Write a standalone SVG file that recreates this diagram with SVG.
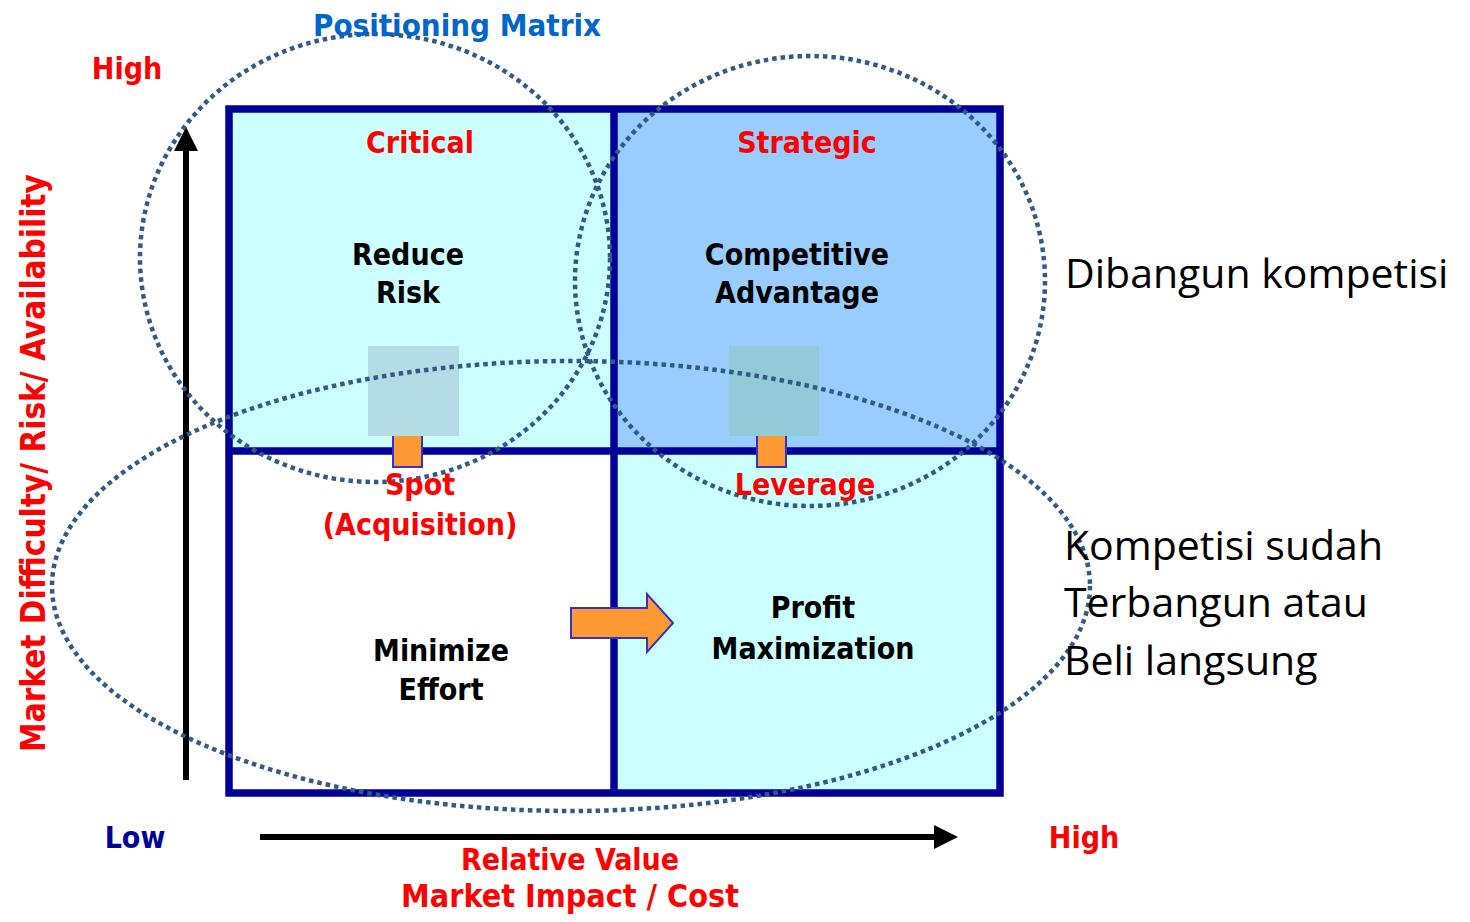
<svg xmlns="http://www.w3.org/2000/svg" width="1470" height="922" viewBox="0 0 1470 922">
<style>
.comic{font-family:"DejaVu Sans Condensed","DejaVu Sans",sans-serif;font-weight:bold;}
.red{fill:#FF0000;}
.blk{fill:#000000;}
.lbl{font-size:30px;text-anchor:middle;}
.side{font-family:"Open Sans","Noto Sans",sans-serif;font-size:41px;fill:#000;}
.dot{fill:none;stroke:#325A87;stroke-width:4.5;stroke-dasharray:4.5 4;}
.grid{fill:none;stroke:#000099;stroke-width:7.5;}
.orange{fill:#FF9933;stroke:#3333CC;stroke-width:2;}
</style>
<defs>
<marker id="ah" markerWidth="4" markerHeight="4" refX="1" refY="2" orient="auto" markerUnits="strokeWidth">
<path d="M0,0 L4,2 L0,4 Z" fill="#000"/>
</marker>
</defs>
<rect width="1470" height="922" fill="#fff"/>
<g id="matrix">
<rect x="229" y="109" width="385" height="342" fill="#CCFFFF"/>
<rect x="614" y="109" width="386" height="342" fill="#99CCFF"/>
<rect x="229" y="451" width="385" height="342" fill="#FFFFFF"/>
<rect x="614" y="451" width="386" height="342" fill="#CCFFFF"/>
<rect class="grid" x="229" y="109" width="771" height="684"/>
<line class="grid" x1="614" y1="109" x2="614" y2="793"/>
<line class="grid" x1="229" y1="451" x2="1000" y2="451"/>
</g>
<g id="connectors-small">
<rect class="orange" x="393" y="430" width="29" height="37"/>
<rect class="orange" x="757" y="430" width="29" height="37"/>
<rect x="368" y="346" width="91" height="90" fill="#B5DCE6"/>
<rect x="729" y="346" width="90" height="90" fill="#93CAD9"/>
</g>
<g id="arrow-orange">
<path class="orange" d="M571,608 L647,608 L647,594 L673,623 L647,652 L647,638 L571,638 Z"/>
</g>
<g id="axes">
<line x1="186" y1="780" x2="186" y2="145" stroke="#000" stroke-width="6" marker-end="url(#ah)"/>
<line x1="260" y1="837" x2="940" y2="837" stroke="#000" stroke-width="6" marker-end="url(#ah)"/>
</g>
<g id="ellipses">
<ellipse class="dot" cx="375" cy="258" rx="235" ry="224"/>
<ellipse class="dot" cx="810" cy="281" rx="235" ry="225"/>
<ellipse class="dot" cx="571" cy="586" rx="519" ry="225"/>
</g>
<g id="labels" class="comic">
<text x="457" y="36" font-size="31" fill="#0066CC" text-anchor="middle">Positioning Matrix</text>
<text x="127" y="79" font-size="30" class="red" text-anchor="middle">High</text>
<text x="420" y="153" class="lbl red">Critical</text>
<text x="807" y="153" class="lbl red">Strategic</text>
<text x="408" y="265" class="lbl blk">Reduce</text>
<text x="408" y="303" class="lbl blk">Risk</text>
<text x="797" y="265" class="lbl blk">Competitive</text>
<text x="797" y="303" class="lbl blk">Advantage</text>
<text x="420" y="495" class="lbl red">Spot</text>
<text x="420" y="535" class="lbl red">(Acquisition)</text>
<text x="805" y="495" class="lbl red">Leverage</text>
<text x="441" y="661" class="lbl blk">Minimize</text>
<text x="441" y="700" class="lbl blk">Effort</text>
<text x="813" y="618" class="lbl blk">Profit</text>
<text x="813" y="659" class="lbl blk">Maximization</text>
<text transform="translate(45,463) rotate(-90)" font-size="33" class="red" text-anchor="middle">Market Difficulty/ Risk/ Availability</text>
<text x="135" y="848" font-size="30" fill="#000099" text-anchor="middle">Low</text>
<text x="1084" y="848" font-size="30" class="red" text-anchor="middle">High</text>
<text x="570" y="870" font-size="30" class="red" text-anchor="middle">Relative Value</text>
<text x="570" y="907" font-size="32" class="red" text-anchor="middle">Market Impact / Cost</text>
</g>
<g id="notes">
<text class="side" x="1065" y="288">Dibangun kompetisi</text>
<text class="side" x="1064" y="560">Kompetisi sudah</text>
<text class="side" x="1064" y="617">Terbangun atau</text>
<text class="side" x="1064" y="675">Beli langsung</text>
</g>
</svg>
